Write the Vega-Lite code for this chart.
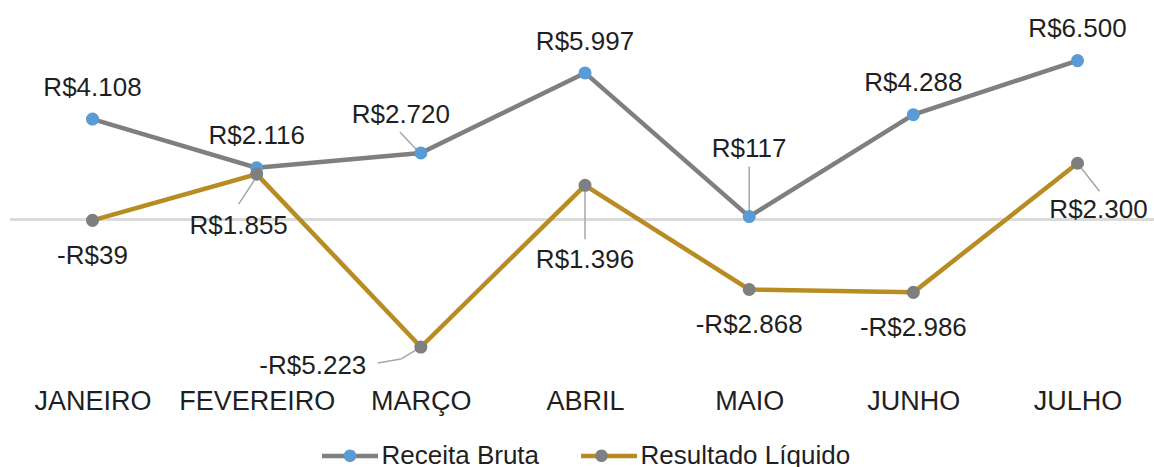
{
  "$schema": "https://vega.github.io/schema/vega-lite/v6.json",
  "width": 1144,
  "height": 342,
  "autosize": {"type": "none"},
  "padding": {"left": 10, "top": 24, "right": 0, "bottom": 101},
  "background": "white",
  "config": {"view": {"stroke": null}, "font": "Liberation Sans"},
  "data": {
    "values": [
      {"mes": "JANEIRO", "serie": "Receita Bruta", "valor": 4108, "rotulo": "R$4.108"},
      {"mes": "FEVEREIRO", "serie": "Receita Bruta", "valor": 2116, "rotulo": "R$2.116"},
      {"mes": "MARÇO", "serie": "Receita Bruta", "valor": 2720, "rotulo": "R$2.720"},
      {"mes": "ABRIL", "serie": "Receita Bruta", "valor": 5997, "rotulo": "R$5.997"},
      {"mes": "MAIO", "serie": "Receita Bruta", "valor": 117, "rotulo": "R$117"},
      {"mes": "JUNHO", "serie": "Receita Bruta", "valor": 4288, "rotulo": "R$4.288"},
      {"mes": "JULHO", "serie": "Receita Bruta", "valor": 6500, "rotulo": "R$6.500"},
      {"mes": "JANEIRO", "serie": "Resultado Líquido", "valor": -39, "rotulo": "-R$39"},
      {"mes": "FEVEREIRO", "serie": "Resultado Líquido", "valor": 1855, "rotulo": "R$1.855"},
      {"mes": "MARÇO", "serie": "Resultado Líquido", "valor": -5223, "rotulo": "-R$5.223"},
      {"mes": "ABRIL", "serie": "Resultado Líquido", "valor": 1396, "rotulo": "R$1.396"},
      {"mes": "MAIO", "serie": "Resultado Líquido", "valor": -2868, "rotulo": "-R$2.868"},
      {"mes": "JUNHO", "serie": "Resultado Líquido", "valor": -2986, "rotulo": "-R$2.986"},
      {"mes": "JULHO", "serie": "Resultado Líquido", "valor": 2300, "rotulo": "R$2.300"}
    ]
  },
  "layer": [
    {
      "mark": {"type": "rule", "color": "#d9d9d9", "strokeWidth": 1.5},
      "encoding": {
        "y": {"datum": 0, "type": "quantitative", "scale": {"domain": [-6000, 8000], "nice": false, "zero": false}, "axis": null}
      }
    },
    {
      "encoding": {
        "x": {
          "field": "mes",
          "type": "nominal",
          "sort": ["JANEIRO", "FEVEREIRO", "MARÇO", "ABRIL", "MAIO", "JUNHO", "JULHO"],
          "scale": {"type": "point", "padding": 0.4842, "align": 0.519},
          "axis": {
            "orient": "bottom",
            "title": null,
            "domain": false,
            "ticks": false,
            "tickSize": 0,
            "grid": false,
            "labelPadding": 22,
            "labelFontSize": 27,
            "labelFont": "Liberation Sans",
            "labelColor": "#1f1f1f",
            "labelAngle": 0,
            "labelOverlap": false,
            "labelLimit": 400
          }
        },
        "y": {
          "field": "valor",
          "type": "quantitative",
          "scale": {"domain": [-6000, 8000], "nice": false, "zero": false},
          "axis": null
        }
      },
      "layer": [
        {
          "mark": {"type": "line", "strokeWidth": 4.5, "strokeJoin": "round", "strokeCap": "round"},
          "encoding": {
            "stroke": {
              "field": "serie",
              "type": "nominal",
              "scale": {"range": ["#7f7f7f", "#b88c23"]},
              "legend": {
                "orient": "none",
                "legendX": 309.5,
                "legendY": 401.2,
                "direction": "horizontal",
                "title": null,
                "padding": 0,
                "symbolType": "stroke",
                "symbolSize": 3136,
                "symbolStrokeWidth": 4.5,
                "labelOffset": 1,
                "columnPadding": 32,
                "labelFontSize": 26,
                "labelFont": "Liberation Sans",
                "labelColor": "#1f1f1f",
                "labelLimit": 400,
                "zindex": 0
              }
            }
          }
        },
        {
          "transform": [{"filter": "(datum.serie == 'Receita Bruta' && datum.mes == 'MARÇO')"}],
          "mark": {"type": "rule", "color": "#a6a6a6", "strokeWidth": 1.5, "xOffset": -4, "yOffset": -3, "x2Offset": -21, "y2Offset": -21},
          "encoding": {"x2": {"field": "mes"}, "y2": {"field": "valor"}}
        },
        {
          "transform": [{"filter": "(datum.serie == 'Receita Bruta' && datum.mes == 'MAIO')"}],
          "mark": {"type": "rule", "color": "#a6a6a6", "strokeWidth": 1.5, "xOffset": 0, "yOffset": 0, "x2Offset": 0, "y2Offset": -50},
          "encoding": {"x2": {"field": "mes"}, "y2": {"field": "valor"}}
        },
        {
          "transform": [{"filter": "(datum.serie == 'Resultado Líquido' && datum.mes == 'FEVEREIRO')"}],
          "mark": {"type": "rule", "color": "#a6a6a6", "strokeWidth": 1.5, "xOffset": 1, "yOffset": 1, "x2Offset": -18, "y2Offset": 30},
          "encoding": {"x2": {"field": "mes"}, "y2": {"field": "valor"}}
        },
        {
          "transform": [{"filter": "(datum.serie == 'Resultado Líquido' && datum.mes == 'MARÇO')"}],
          "mark": {"type": "rule", "color": "#a6a6a6", "strokeWidth": 1.5, "xOffset": 0, "yOffset": 0, "x2Offset": -20, "y2Offset": 12},
          "encoding": {"x2": {"field": "mes"}, "y2": {"field": "valor"}}
        },
        {
          "transform": [{"filter": "(datum.serie == 'Resultado Líquido' && datum.mes == 'MARÇO')"}],
          "mark": {"type": "rule", "color": "#a6a6a6", "strokeWidth": 1.5, "xOffset": -20, "yOffset": 12, "x2Offset": -43, "y2Offset": 16},
          "encoding": {"x2": {"field": "mes"}, "y2": {"field": "valor"}}
        },
        {
          "transform": [{"filter": "(datum.serie == 'Resultado Líquido' && datum.mes == 'ABRIL')"}],
          "mark": {"type": "rule", "color": "#a6a6a6", "strokeWidth": 1.5, "xOffset": 0, "yOffset": 0, "x2Offset": 0, "y2Offset": 54},
          "encoding": {"x2": {"field": "mes"}, "y2": {"field": "valor"}}
        },
        {
          "transform": [{"filter": "(datum.serie == 'Resultado Líquido' && datum.mes == 'JULHO')"}],
          "mark": {"type": "rule", "color": "#a6a6a6", "strokeWidth": 1.5, "xOffset": 0, "yOffset": 0, "x2Offset": 22, "y2Offset": 28},
          "encoding": {"x2": {"field": "mes"}, "y2": {"field": "valor"}}
        },
        {
          "transform": [{"calculate": "datum.serie", "as": "serie_marcador"}],
          "mark": {"type": "point", "shape": "circle", "filled": true, "size": 170, "opacity": 1, "strokeWidth": 0},
          "encoding": {
            "fill": {
              "field": "serie_marcador",
              "type": "nominal",
              "scale": {"range": ["#5b9bd5", "#7f7f7f"]},
              "legend": {
                "orient": "none",
                "legendX": 309.5,
                "legendY": 401.2,
                "direction": "horizontal",
                "title": null,
                "padding": 0,
                "symbolType": "M0.225,0C0.225,0.1243,0.1243,0.225,0,0.225C-0.1243,0.225,-0.225,0.1243,-0.225,0C-0.225,-0.1243,-0.1243,-0.225,0,-0.225C0.1243,-0.225,0.225,-0.1243,0.225,0Z",
                "symbolSize": 3136,
                "symbolStrokeWidth": 4.5,
                "symbolStrokeColor": "transparent",
                "symbolOpacity": 1,
                "labelOffset": 1,
                "labelExpr": "''",
                "columnPadding": 189.5,
                "labelFontSize": 26,
                "labelFont": "Liberation Sans",
                "labelLimit": 400,
                "zindex": 1
              }
            }
          }
        },
        {
          "transform": [{"filter": "datum.serie == 'Receita Bruta' && indexof(['JANEIRO','FEVEREIRO','ABRIL','JUNHO','JULHO'], datum.mes) >= 0"}],
          "mark": {"type": "text", "fontSize": 26, "font": "Liberation Sans", "baseline": "alphabetic", "align": "center", "dy": -23.4, "color": "#1f1f1f"},
          "encoding": {"text": {"field": "rotulo"}}
        },
        {
          "transform": [{"filter": "datum.serie == 'Receita Bruta' && datum.mes == 'MARÇO'"}],
          "mark": {"type": "text", "fontSize": 26, "font": "Liberation Sans", "baseline": "alphabetic", "align": "center", "dx": -20, "dy": -29.7, "color": "#1f1f1f"},
          "encoding": {"text": {"field": "rotulo"}}
        },
        {
          "transform": [{"filter": "datum.serie == 'Receita Bruta' && datum.mes == 'MAIO'"}],
          "mark": {"type": "text", "fontSize": 26, "font": "Liberation Sans", "baseline": "alphabetic", "align": "center", "dy": -59.8, "color": "#1f1f1f"},
          "encoding": {"text": {"field": "rotulo"}}
        },
        {
          "transform": [{"filter": "datum.serie == 'Resultado Líquido' && indexof(['JANEIRO','MAIO','JUNHO'], datum.mes) >= 0"}],
          "mark": {"type": "text", "fontSize": 26, "font": "Liberation Sans", "baseline": "alphabetic", "align": "center", "dy": 44, "color": "#1f1f1f"},
          "encoding": {"text": {"field": "rotulo"}}
        },
        {
          "transform": [{"filter": "datum.serie == 'Resultado Líquido' && datum.mes == 'FEVEREIRO'"}],
          "mark": {"type": "text", "fontSize": 26, "font": "Liberation Sans", "baseline": "alphabetic", "align": "center", "dx": -18, "dy": 60, "color": "#1f1f1f"},
          "encoding": {"text": {"field": "rotulo"}}
        },
        {
          "transform": [{"filter": "datum.serie == 'Resultado Líquido' && datum.mes == 'MARÇO'"}],
          "mark": {"type": "text", "fontSize": 26, "font": "Liberation Sans", "baseline": "alphabetic", "align": "center", "dx": -108, "dy": 26.5, "color": "#1f1f1f"},
          "encoding": {"text": {"field": "rotulo"}}
        },
        {
          "transform": [{"filter": "datum.serie == 'Resultado Líquido' && datum.mes == 'ABRIL'"}],
          "mark": {"type": "text", "fontSize": 26, "font": "Liberation Sans", "baseline": "alphabetic", "align": "center", "dy": 83, "color": "#1f1f1f"},
          "encoding": {"text": {"field": "rotulo"}}
        },
        {
          "transform": [{"filter": "datum.serie == 'Resultado Líquido' && datum.mes == 'JULHO'"}],
          "mark": {"type": "text", "fontSize": 26, "font": "Liberation Sans", "baseline": "alphabetic", "align": "center", "dx": 21, "dy": 55, "color": "#1f1f1f"},
          "encoding": {"text": {"field": "rotulo"}}
        }
      ]
    }
  ]
}
